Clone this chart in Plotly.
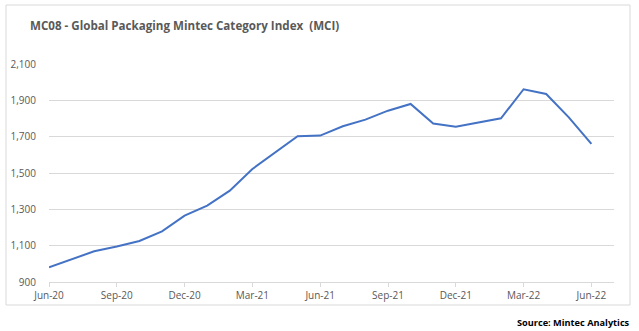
import plotly.graph_objects as go

# Monthly index values, Jun-20 .. Jun-22
months = ["Jun-20", "Jul-20", "Aug-20", "Sep-20", "Oct-20", "Nov-20", "Dec-20",
          "Jan-21", "Feb-21", "Mar-21", "Apr-21", "May-21", "Jun-21", "Jul-21",
          "Aug-21", "Sep-21", "Oct-21", "Nov-21", "Dec-21", "Jan-22", "Feb-22",
          "Mar-22", "Apr-22", "May-22", "Jun-22"]
mci = [981, 1023, 1069, 1095, 1126, 1179, 1265, 1320, 1403, 1522, 1614, 1702,
       1706, 1757, 1794, 1843, 1880, 1772, 1755, 1779, 1801, 1961, 1935, 1806, 1660]
x_ticks = months[::3]
y_ticks = [900, 1100, 1300, 1500, 1700, 1900, 2100]

TEXT = "#595959"
GRID = "#d9d9d9"
FONT = "Open Sans"

fig = go.Figure(go.Scatter(
    x=months, y=mci, mode="lines",
    line=dict(color="#4472C4", width=2),
    hoverinfo="x+y",
))

W, H = 639, 331
L, R, T, B = 49, 25, 64, 49
pw, ph = W - L - R, H - T - B

def px_x(p):
    return (p - L) / pw

def px_y(p):
    return (H - B - p) / ph

fig.update_layout(
    width=W, height=H,
    margin=dict(l=L, r=R, t=T, b=B),
    paper_bgcolor="white", plot_bgcolor="white",
    font=dict(family=FONT, color=TEXT, size=10),
    showlegend=False,
    xaxis=dict(
        type="category", range=[0, 25],
        tickmode="array", tickvals=x_ticks, ticktext=x_ticks,
        showgrid=False, showline=True, linecolor=GRID, linewidth=1,
        ticks="outside", ticklen=4, tickcolor=GRID,
        tickfont=dict(size=10, color=TEXT, family=FONT),
    ),
    yaxis=dict(
        range=[900, 2100], tickmode="array", tickvals=y_ticks,
        tickformat=",", showgrid=True, gridcolor=GRID, gridwidth=1,
        zeroline=False, showline=False, ticks="",
        ticklabelstandoff=12,
        tickfont=dict(size=10, color=TEXT, family=FONT),
    ),
    shapes=[dict(
        type="rect", xref="paper", yref="paper",
        x0=px_x(6), x1=px_x(630), y0=px_y(305), y1=px_y(5),
        line=dict(color=GRID, width=1), fillcolor="rgba(0,0,0,0)", layer="below",
    )],
    annotations=[
        dict(text="<b>MC08 - Global Packaging Mintec Category Index  (MCI)</b>",
             xref="paper", yref="paper", x=px_x(28), y=px_y(25),
             xanchor="left", yanchor="middle", showarrow=False,
             font=dict(size=11.6, color=TEXT, family=FONT)),
        dict(text="<b>Source: Mintec Analytics</b>",
             xref="paper", yref="paper", x=px_x(632), y=px_y(322),
             xanchor="right", yanchor="middle", showarrow=False,
             font=dict(size=9.2, color="#000000", family=FONT)),
    ],
)

fig.write_html("out.html")
